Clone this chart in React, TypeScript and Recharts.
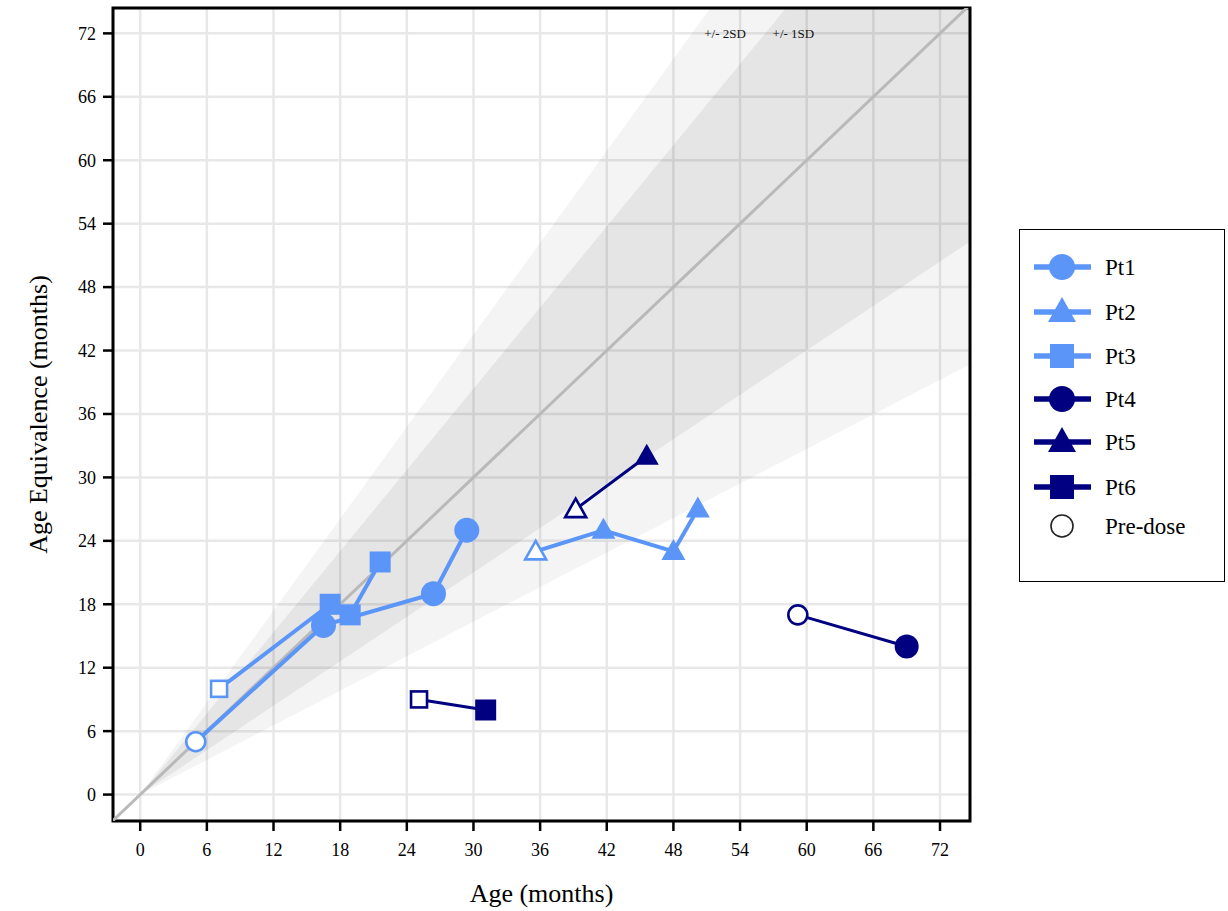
import React from 'react';
import {
  ComposedChart,
  Scatter,
  Line,
  Area,
  XAxis,
  YAxis,
  CartesianGrid,
  ReferenceArea,
  ReferenceDot,
  Legend,
  Label,
} from 'recharts';

// ---- data ----
type Obs = { x: number; y: number; pre?: boolean };

const ageTicks = [0, 6, 12, 18, 24, 30, 36, 42, 48, 54, 60, 66, 72];

// age (months) vs age equivalence (months); first visit of each patient is pre-dose
const pt1: Obs[] = [
  { x: 5, y: 5, pre: true },
  { x: 16.5, y: 16 },
  { x: 26.4, y: 19 },
  { x: 29.4, y: 25 },
];
const pt2: Obs[] = [
  { x: 35.6, y: 23, pre: true },
  { x: 41.7, y: 25 },
  { x: 48, y: 23 },
  { x: 50.2, y: 27 },
];
const pt3: Obs[] = [
  { x: 7.1, y: 10, pre: true },
  { x: 17.1, y: 18 },
  { x: 18.9, y: 17 },
  { x: 21.6, y: 22 },
];
const pt4: Obs[] = [
  { x: 59.2, y: 17, pre: true },
  { x: 69, y: 14 },
];
const pt5: Obs[] = [
  { x: 39.2, y: 27, pre: true },
  { x: 45.6, y: 32 },
];
const pt6: Obs[] = [
  { x: 25.1, y: 9, pre: true },
  { x: 31.1, y: 8 },
];

// normative bands around the identity line (range = [low, high] at each age)
const band2sd = [
  { x: 0, band: [0, 0] },
  { x: 74.7, band: [40.7, 108.3] },
];
const band1sd = [
  { x: 0, band: [0, 0] },
  { x: 74.7, band: [52.3, 95.6] },
];
const identity = [
  { x: -2.45, y: -2.45 },
  { x: 74.7, y: 74.7 },
];

// ---- styling ----
const LIGHT = '#5b95f8';
const NAVY = '#000080';
const SERIF = '"Liberation Serif", "Times New Roman", serif';
const X_DOMAIN: [number, number] = [-2.45, 74.7];
const Y_DOMAIN: [number, number] = [-2.5, 74.4];

type Kind = 'circle' | 'triangle' | 'square';

const Marker = ({ kind, color, cx, cy, open, big }: { kind: Kind; color: string; cx: number; cy: number; open?: boolean; big?: boolean }) => {
  const fill = open ? '#fff' : color;
  const sw = open ? 2.6 : 0;
  if (kind === 'circle') {
    const r = open ? 9.5 : big ? 12.5 : 12;
    return <circle cx={cx} cy={cy} r={r} fill={fill} stroke={color} strokeWidth={sw} />;
  }
  if (kind === 'square') {
    const h = open ? 8 : 10.5;
    return <rect x={cx - h} y={cy - h} width={2 * h} height={2 * h} fill={fill} stroke={color} strokeWidth={sw} />;
  }
  const w = open ? 10.5 : 12;
  const top = open ? 10.5 : 12.5;
  const bot = open ? 8 : 8.5;
  const d = `M${cx},${cy - top}L${cx + w},${cy + bot}L${cx - w},${cy + bot}Z`;
  return <path d={d} fill={fill} stroke={color} strokeWidth={sw} strokeLinejoin="miter" />;
};

const shapeFor = (kind: Kind, color: string) => (props: any) => {
  const { cx, cy, payload } = props;
  if (cx == null || cy == null) return <g />;
  return <Marker kind={kind} color={color} cx={cx} cy={cy} open={!!payload?.pre} big={color === LIGHT} />;
};

const seriesList: { name: string; data: Obs[]; color: string; kind: Kind; width: number }[] = [
  { name: 'Pt3', data: pt3, color: LIGHT, kind: 'square', width: 4 },
  { name: 'Pt2', data: pt2, color: LIGHT, kind: 'triangle', width: 4 },
  { name: 'Pt1', data: pt1, color: LIGHT, kind: 'circle', width: 4 },
  { name: 'Pt4', data: pt4, color: NAVY, kind: 'circle', width: 3 },
  { name: 'Pt5', data: pt5, color: NAVY, kind: 'triangle', width: 3 },
  { name: 'Pt6', data: pt6, color: NAVY, kind: 'square', width: 3 },
];

const legendEntries: { name: string; color: string; kind: Kind }[] = [
  { name: 'Pt1', color: LIGHT, kind: 'circle' },
  { name: 'Pt2', color: LIGHT, kind: 'triangle' },
  { name: 'Pt3', color: LIGHT, kind: 'square' },
  { name: 'Pt4', color: NAVY, kind: 'circle' },
  { name: 'Pt5', color: NAVY, kind: 'triangle' },
  { name: 'Pt6', color: NAVY, kind: 'square' },
];
const legendRows = [37, 82, 126, 169, 212, 257];

const LegendBox = () => (
  <div
    style={{
      width: 206,
      height: 353,
      border: '1.5px solid #000',
      boxSizing: 'border-box',
      background: '#fff',
    }}
  >
    <svg width={204} height={350} style={{ display: 'block' }}>
      {legendEntries.map((e, i) => {
        const y = legendRows[i];
        return (
          <g key={e.name}>
            <line x1={14} x2={71} y1={y} y2={y} stroke={e.color} strokeWidth={5.5} />
            {e.kind === 'circle' && <circle cx={42} cy={y} r={13} fill={e.color} />}
            {e.kind === 'square' && <rect x={30} y={y - 12} width={24} height={24} fill={e.color} />}
            {e.kind === 'triangle' && (
              <path d={`M42,${y - 15}L56,${y + 10}L28,${y + 10}Z`} fill={e.color} />
            )}
            <text x={85} y={y} dominantBaseline="central" fontFamily={SERIF} fontSize={23} fill="#000">
              {e.name}
            </text>
          </g>
        );
      })}
      <circle cx={42} cy={296} r={11} fill="#fff" stroke="#222" strokeWidth={1.6} />
      <text x={85} y={296} dominantBaseline="central" fontFamily={SERIF} fontSize={23} fill="#000">
        Pre-dose
      </text>
    </svg>
  </div>
);

const XTitle = (props: any) => {
  const vb = props.viewBox || {};
  const cx = vb.x + vb.width / 2;
  const cy = vb.y + 72;
  return (
    <text x={cx} y={cy} textAnchor="middle" dominantBaseline="central" fontFamily={SERIF} fontSize={26} fill="#000">
      Age (months)
    </text>
  );
};

const YTitle = (props: any) => {
  const vb = props.viewBox || {};
  const cx = vb.x + 38;
  const cy = vb.y + vb.height / 2;
  return (
    <text
      x={cx}
      y={cy}
      transform={`rotate(-90 ${cx} ${cy})`}
      textAnchor="middle"
      dominantBaseline="central"
      fontFamily={SERIF}
      fontSize={26}
      fill="#000"
    >
      Age Equivalence (months)
    </text>
  );
};

const tickStyle = { fontFamily: SERIF, fontSize: 18, fill: '#000' };

export default function App() {
  return (
    <div style={{ position: 'absolute', left: 0, top: 0, background: '#fff' }}>
      <ComposedChart width={1228} height={911} margin={{ top: 8, right: 258, bottom: 0, left: 0 }}>
        <CartesianGrid stroke="#e8e8e8" strokeWidth={2.5} />
        <XAxis
          type="number"
          dataKey="x"
          domain={X_DOMAIN}
          allowDataOverflow
          ticks={ageTicks}
          interval={0}
          height={90}
          axisLine={false}
          tickLine={{ stroke: '#000', strokeWidth: 2.5 }}
          tickSize={10}
          tickMargin={12}
          tick={tickStyle}
        >
          <Label content={XTitle} />
        </XAxis>
        <YAxis
          type="number"
          dataKey="y"
          domain={Y_DOMAIN}
          allowDataOverflow
          ticks={ageTicks}
          interval={0}
          width={113}
          axisLine={false}
          tickLine={{ stroke: '#000', strokeWidth: 2.5 }}
          tickSize={10}
          tickMargin={7}
          tick={tickStyle}
        >
          <Label content={YTitle} />
        </YAxis>

        <Area
          data={band2sd}
          dataKey="band"
          type="linear"
          stroke="none"
          fill="#000"
          fillOpacity={0.043}
          isAnimationActive={false}
          activeDot={false}
          legendType="none"
        />
        <Area
          data={band1sd}
          dataKey="band"
          type="linear"
          stroke="none"
          fill="#000"
          fillOpacity={0.058}
          isAnimationActive={false}
          activeDot={false}
          legendType="none"
        />
        <Line
          data={identity}
          dataKey="y"
          type="linear"
          stroke="#b9b9b9"
          strokeWidth={3}
          dot={false}
          activeDot={false}
          isAnimationActive={false}
          legendType="none"
        />

        <ReferenceDot
          x={52.65}
          y={72}
          r={1}
          fill="none"
          stroke="none"
          ifOverflow="visible"
          label={{ value: '+/- 2SD', position: 'center', fontFamily: SERIF, fontSize: 13, fill: '#111' }}
        />
        <ReferenceDot
          x={58.8}
          y={72}
          r={1}
          fill="none"
          stroke="none"
          ifOverflow="visible"
          label={{ value: '+/- 1SD', position: 'center', fontFamily: SERIF, fontSize: 13, fill: '#111' }}
        />

        {seriesList.map((s) => (
          <Scatter
            key={s.name}
            name={s.name}
            data={s.data}
            dataKey="y"
            fill={s.color}
            line={{ stroke: s.color, strokeWidth: s.width }}
            lineType="joint"
            shape={shapeFor(s.kind, s.color)}
            isAnimationActive={false}
          />
        ))}

        <ReferenceArea
          x1={X_DOMAIN[0]}
          x2={X_DOMAIN[1]}
          y1={Y_DOMAIN[0]}
          y2={Y_DOMAIN[1]}
          fill="none"
          fillOpacity={0}
          stroke="#000"
          strokeWidth={3}
          ifOverflow="visible"
        />

        <Legend
          layout="vertical"
          align="center"
          verticalAlign="middle"
          content={() => <LegendBox />}
          wrapperStyle={{ position: 'absolute', left: 1019, top: 229, width: 206, height: 353 }}
        />
      </ComposedChart>
    </div>
  );
}
